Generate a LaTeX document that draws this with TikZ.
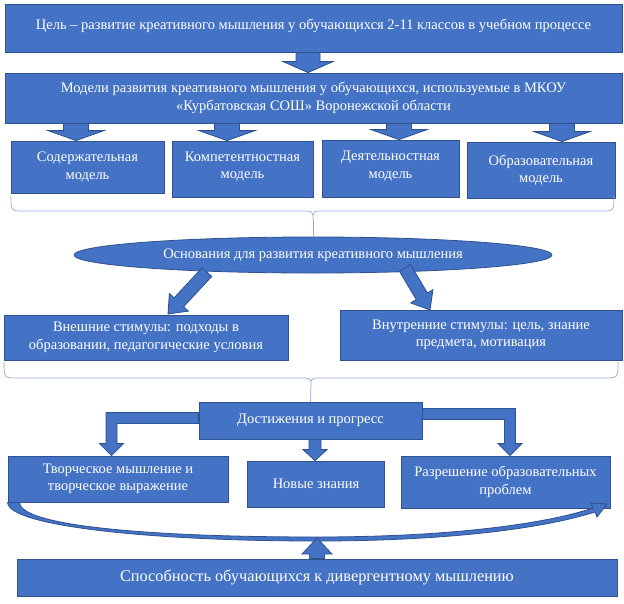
\documentclass[tikz,border=0pt]{standalone}
\usepackage{fontspec}
\setmainfont{Liberation Serif}
\usetikzlibrary{calc,shapes.geometric}

\definecolor{boxblue}{HTML}{4472C4}
\definecolor{boxedge}{HTML}{2F528F}
\definecolor{bracecol}{HTML}{8FAADC}

\tikzset{
  blk/.style={fill=boxblue, draw=boxedge, line width=.8pt},
  stage/.style={blk, text=white, inner sep=0pt, align=center,
    font=\fontsize{14.5}{17.5}\selectfont},
  bracket/.style={draw=bracecol, line width=.7pt},
}

% fat block arrow: tail, tip, shaft half width, head half width, head length
\newcommand{\fatarrow}[5]{%
  \coordinate (fh) at ($(#2)!#5!(#1)$);
  \filldraw[blk] ($(#1)!#3!90:(#2)$) -- ($(fh)!#3!-90:(#1)$) -- ($(fh)!#4!-90:(#1)$) -- (#2)
    -- ($(fh)!#4!90:(#1)$) -- ($(fh)!#3!90:(#1)$) -- ($(#1)!#3!-90:(#2)$) -- cycle;
}
% bent block arrow: start, tip, side (-1 left, 1 right)
\newcommand{\elbowarrow}[3]{%
  \filldraw[blk] let \p1=(#1), \p2=(#2) in
    (\x1,{\y1+5.5pt}) -- ({\x2+(#3)*5.5pt},{\y1+5.5pt}) -- ({\x2+(#3)*5.5pt},{\y2+12pt})
    -- ({\x2+(#3)*12pt},{\y2+12pt}) -- (\x2,\y2) -- ({\x2-(#3)*12pt},{\y2+12pt})
    -- ({\x2-(#3)*5.5pt},{\y2+12pt}) -- ({\x2-(#3)*5.5pt},{\y1-5.5pt}) -- (\x1,{\y1-5.5pt}) -- cycle;
}

\begin{document}
\begin{tikzpicture}[x=1pt,y=-1pt]
  \useasboundingbox (0,0) rectangle (624,603);

  % top
  \node[stage, minimum width=617pt, text height=25pt, text depth=23pt] (goal) at (313.5,28)
    {Цель – развитие креативного мышления у обучающихся 2-11 классов в учебном процессе};
  \node[stage, minimum width=617pt, minimum height=50pt] (models) at (313.5,98)
    {Модели развития креативного мышления у обучающихся, используемые в МКОУ\\
     «Курбатовская СОШ» Воронежской области};

  % models
  \node[stage, minimum width=153pt, minimum height=52pt] (m1) at (87.5,167) {Содержательная\\модель};
  \node[stage, minimum width=141pt, minimum height=56pt] (m2) at (242.5,169) {Компетентностная\\модель\\[-9.5pt]};
  \node[stage, minimum width=137pt, minimum height=57pt] (m3) at (390.5,168.5) {Деятельностная\\модель\\[-9.5pt]};
  \node[stage, minimum width=148pt, minimum height=56pt] (m4) at (541,170) {Образовательная\\модель};

  % basis
  \node[stage, ellipse, minimum width=478pt, minimum height=36pt] (basis) at (313,255)
    {Основания для развития креативного мышления};
  \node[stage, minimum width=284pt, minimum height=45pt] (ext) at (146,337.5)
    {Внешние стимулы: подходы в\\образовании, педагогические условия};
  \node[stage, minimum width=282pt, minimum height=50pt] (int) at (481,335)
    {Внутренние стимулы: цель, знание\\предмета, мотивация};

  % results
  \node[stage, minimum width=223pt, minimum height=37pt] (ach) at (310.5,420.5) {Достижения и прогресс};
  \node[stage, minimum width=220pt, minimum height=46pt] (b1) at (118,479)
    {Творческое мышление и\\творческое выражение};
  \node[stage, minimum width=137pt, minimum height=46pt] (b2) at (316,484) {Новые знания};
  \node[stage, minimum width=209pt, minimum height=52pt] (b3) at (505.5,482)
    {Разрешение образовательных\\проблем};
  \node[stage, minimum width=600pt, minimum height=37pt, font=\fontsize{16.3}{19}\selectfont] (bot)
    at (317,577.5) {Способность обучающихся к дивергентному мышлению};

  % block arrows
  \coordinate (t0) at ($(goal.south)+(-5.5,0)$);
  \coordinate (h0) at (t0 |- models.north);
  \fatarrow{t0}{h0}{12pt}{25pt}{11pt}
  \foreach \i/\dx in {1/-11.5, 2/-15.5, 3/8.5, 4/21} {
    \coordinate (h\i) at ($(m\i.north)+(\dx,0)$);
    \coordinate (t\i) at (h\i |- models.south);
    \fatarrow{t\i}{h\i}{12.5pt}{28pt}{10pt}
  }
  \coordinate (t5) at (207,272);
  \coordinate (h5) at (168,314);
  \fatarrow{t5}{h5}{6.5pt}{13pt}{16pt}
  \coordinate (t6) at (405,268);
  \coordinate (h6) at (430,310);
  \fatarrow{t6}{h6}{6.5pt}{13pt}{16pt}
  \coordinate (t7) at ($(ach.south)+(4.5,0)$);
  \coordinate (h7) at (t7 |- b2.north);
  \fatarrow{t7}{h7}{6pt}{12pt}{11pt}
  \coordinate (t9) at ($(ach.west)+(0,-2.5)$);
  \coordinate (h9) at ($(b1.north)+(-6.5,0)$);
  \elbowarrow{t9}{h9}{-1}
  \coordinate (t10) at ($(ach.east)+(0,-6.5)$);
  \coordinate (h10) at ($(b3.north)+(4.5,0)$);
  \elbowarrow{t10}{h10}{1}

  % braces
  \draw[bracket] (11,196) .. controls (11,211) .. (24,211) -- (300,211) .. controls (313,211) .. (313,219)
    .. controls (313,211) .. (326,211) -- (601,211) .. controls (614,211) .. (614,196);
  \coordinate (br1) at (313,219);
  \draw[bracket] (br1) -- (basis.north);
  \draw[bracket] (4,362) .. controls (4,378) .. (18,378) -- (298,378) .. controls (311,378) .. (311,385)
    .. controls (311,378) .. (324,378) -- (604,378) .. controls (618,378) .. (618,362);
  \coordinate (br2) at (311,385);
  \draw[bracket] (br2) -- (ach.north);

  % curved arrow under the results
  \filldraw[blk] (b1.south west) .. controls (8,526) and (150,541) .. (317,541)
    .. controls (450,541) and (545,528) .. (595,512) -- (597,517) -- (607,504) -- (591,503)
    -- (593,508) .. controls (545,524) and (450,537) .. (317,537)
    .. controls (150,537) and (20,526) .. ($(b1.south west)+(12,0)$) -- cycle;
  \coordinate (loop) at (317,538);
  \coordinate (t8) at (loop |- bot.north);
  \fatarrow{t8}{loop}{7.5pt}{15pt}{16pt}
\end{tikzpicture}
\end{document}
